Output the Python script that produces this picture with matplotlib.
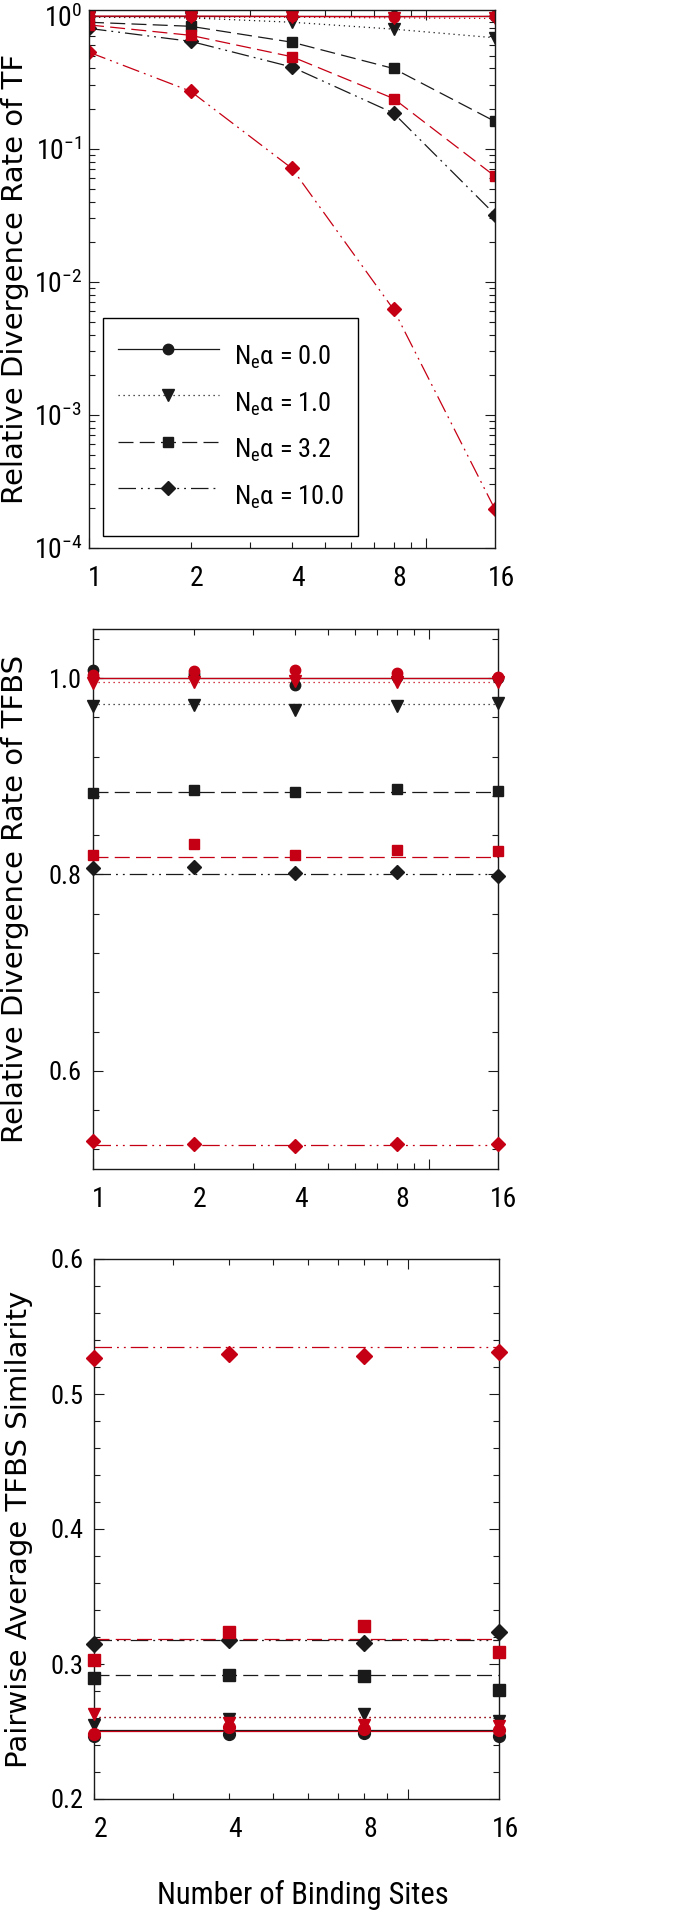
import numpy as np
import matplotlib
matplotlib.use('Agg')
import matplotlib.pyplot as plt
from matplotlib import font_manager as fm
from matplotlib.ft2font import FT2Font
from matplotlib.ticker import LogLocator, NullFormatter, MultipleLocator, NullLocator
from matplotlib.transforms import ScaledTranslation

avail = {f.name for f in fm.fontManager.ttflist}


def has_alpha(name):
    try:
        path = fm.findfont(fm.FontProperties(family=name), fallback_to_default=False)
        return FT2Font(path).get_char_index(ord('α')) != 0
    except Exception:
        return False


NARROW = 'Liberation Sans'
for cand in ['Liberation Sans Narrow', 'Arial Narrow', 'Roboto Condensed',
             'Archivo Narrow', 'PT Sans Narrow', 'Open Sans Condensed']:
    if cand in avail and has_alpha(cand):
        NARROW = cand
        break
plt.rcParams['font.family'] = [NARROW, 'DejaVu Sans']
plt.rcParams['mathtext.fontset'] = 'custom'
plt.rcParams['mathtext.rm'] = NARROW
plt.rcParams['mathtext.it'] = NARROW + ':italic'
plt.rcParams['mathtext.bf'] = NARROW + ':bold'

# ---------------- data ----------------
sites = [1, 2, 4, 8, 16]
sites_sim = [2, 4, 8, 16]
alpha_labels = ['0.0', '1.0', '3.2', '10.0']

# Panel 1: relative divergence rate of TF (black / red)
tf_black_a00 = [1.0, 1.0, 1.0, 1.0, 1.0]
tf_black_a10 = [0.97, 0.96, 0.89, 0.79, 0.68]
tf_black_a32 = [0.89, 0.83, 0.63, 0.40, 0.16]
tf_black_a100 = [0.80, 0.64, 0.41, 0.185, 0.032]
tf_red_a00 = [0.99, 0.99, 0.985, 0.98, 0.985]
tf_red_a10 = [0.98, 0.97, 0.97, 0.96, 0.95]
tf_red_a32 = [0.85, 0.71, 0.49, 0.238, 0.062]
tf_red_a100 = [0.53, 0.27, 0.071, 0.0062, 0.000195]

# Panel 2: relative divergence rate of TFBS (points and level lines)
tfbs_black_a00 = [1.008, 1.004, 0.993, 1.001, 1.0]
tfbs_black_a10 = [0.972, 0.973, 0.968, 0.972, 0.975]
tfbs_black_a32 = [0.883, 0.886, 0.884, 0.887, 0.885]
tfbs_black_a100 = [0.807, 0.808, 0.801, 0.803, 0.798]
tfbs_red_a00 = [1.003, 1.007, 1.008, 1.005, 1.001]
tfbs_red_a10 = [0.995, 0.996, 0.997, 0.996, 0.996]
tfbs_red_a32 = [0.820, 0.831, 0.820, 0.825, 0.824]
tfbs_red_a100 = [0.529, 0.525, 0.523, 0.525, 0.525]
tfbs_black_level = [1.0, 0.974, 0.884, 0.800]
tfbs_red_level = [1.0, 0.9965, 0.818, 0.524]

# Panel 3: pairwise average TFBS similarity (points and level lines)
sim_black_a00 = [0.247, 0.248, 0.249, 0.247]
sim_black_a10 = [0.255, 0.259, 0.263, 0.258]
sim_black_a32 = [0.2896, 0.292, 0.291, 0.281]
sim_black_a100 = [0.3148, 0.318, 0.3156, 0.324]
sim_red_a00 = [0.248, 0.253, 0.252, 0.251]
sim_red_a10 = [0.263, 0.256, 0.255, 0.254]
sim_red_a32 = [0.303, 0.3237, 0.328, 0.309]
sim_red_a100 = [0.527, 0.530, 0.528, 0.531]
sim_black_level = [0.251, 0.2605, 0.292, 0.318]
sim_red_level = [0.2506, 0.2605, 0.3185, 0.535]

# ---------------- styles ----------------
BLACK = '#1a1a1a'
RED = '#c60014'
LW = 0.9
LSTYLES = ['-', (0, (1, 3)), (0, (12, 5)), (0, (14, 4, 1.5, 4, 1.5, 4))]
MARKERS = ['o', 'v', 's', 'D']
MSIZES = [7.5, 8, 7.5, 7.5]
TICKSIZE = 19

W, H = 696, 1916
fig = plt.figure(figsize=(W / 100, H / 100), dpi=100)


def axes_px(left, top, right, bottom):
    return fig.add_axes([left / W, 1 - bottom / H, (right - left) / W, (bottom - top) / H])


ax1 = axes_px(89, 10, 495, 548)
ax2 = axes_px(92.7, 629, 498, 1169)
ax3 = axes_px(94.3, 1259, 499, 1799)

label_shift = ScaledTranslation(6 / 100, 0, fig.dpi_scale_trans)


def style_axes(ax, xs, ypad):
    ax.set_xscale('log')
    ax.set_xlim(xs[0], xs[-1])
    ax.xaxis.set_major_locator(LogLocator(base=10))
    ax.xaxis.set_minor_locator(LogLocator(base=10, subs=np.arange(2, 10)))
    ax.xaxis.set_major_formatter(NullFormatter())
    ax.xaxis.set_minor_formatter(NullFormatter())
    ax.tick_params(which='both', direction='in', top=True, right=True,
                   color=BLACK, width=0.8, labelsize=TICKSIZE, pad=ypad)
    ax.tick_params(which='major', length=7)
    ax.tick_params(which='minor', length=4)
    for s in ax.spines.values():
        s.set_linewidth(1.0)
        s.set_color(BLACK)
    sec = ax.secondary_xaxis('bottom')
    sec.set_xticks(xs, labels=[str(v) for v in xs])
    sec.xaxis.set_minor_locator(NullLocator())
    sec.tick_params(length=0, pad=12, labelsize=TICKSIZE + 1)
    sec.spines['bottom'].set_visible(False)
    for lab in sec.get_xticklabels():
        lab.set_transform(lab.get_transform() + label_shift)
    return sec


# ---------------- panel 1 ----------------
tf_black = [tf_black_a00, tf_black_a10, tf_black_a32, tf_black_a100]
tf_red = [tf_red_a00, tf_red_a10, tf_red_a32, tf_red_a100]
handles = []
for i in range(4):
    h, = ax1.plot(sites, tf_black[i], color=BLACK, ls=LSTYLES[i], lw=LW,
                  marker=MARKERS[i], ms=MSIZES[i], mec=BLACK, mfc=BLACK)
    handles.append(h)
for i in range(4):
    ax1.plot(sites, tf_red[i], color=RED, ls=LSTYLES[i], lw=LW,
             marker=MARKERS[i], ms=MSIZES[i], mec=RED, mfc=RED)
ax1.set_yscale('log')
ax1.set_ylim(1e-4, 1.1)
ax1.yaxis.set_minor_locator(LogLocator(base=10, subs=np.arange(2, 10)))
ax1.yaxis.set_minor_formatter(NullFormatter())
style_axes(ax1, sites, 5)
ax1.tick_params(axis='y', pad=5, labelsize=TICKSIZE + 1)

leg = ax1.legend(handles=handles,
                 labels=[r'N$_{\mathregular{e}}$α = ' + a for a in alpha_labels],
                 loc='upper left', bbox_to_anchor=((103 - 89) / 406, (548 - 318) / 538),
                 borderaxespad=0, fontsize=19, frameon=True, fancybox=False,
                 edgecolor='black', framealpha=1, handlelength=3.85, handletextpad=0.55,
                 borderpad=0.55, handleheight=2.5, labelspacing=-0.11, numpoints=1)
leg.get_frame().set_linewidth(1.0)

# ---------------- panel 2 ----------------
tfbs_black = [tfbs_black_a00, tfbs_black_a10, tfbs_black_a32, tfbs_black_a100]
tfbs_red = [tfbs_red_a00, tfbs_red_a10, tfbs_red_a32, tfbs_red_a100]
for pts, lev, col in [(tfbs_black, tfbs_black_level, BLACK), (tfbs_red, tfbs_red_level, RED)]:
    for i in range(4):
        ax2.plot([sites[0], sites[-1]], [lev[i], lev[i]], color=col, ls=LSTYLES[i], lw=LW, zorder=2)
        ax2.plot(sites, pts[i], ls='none', marker=MARKERS[i], ms=MSIZES[i],
                 mec=col, mfc=col, zorder=3, clip_on=False)
ax2.set_ylim(0.5, 1.05)
ax2.set_yticks([0.6, 0.8, 1.0], labels=['0.6', '0.8', '1.0'])
ax2.yaxis.set_minor_locator(MultipleLocator(0.04))
style_axes(ax2, sites, 8)

# ---------------- panel 3 ----------------
sim_black = [sim_black_a00, sim_black_a10, sim_black_a32, sim_black_a100]
sim_red = [sim_red_a00, sim_red_a10, sim_red_a32, sim_red_a100]
for pts, lev, col in [(sim_black, sim_black_level, BLACK), (sim_red, sim_red_level, RED)]:
    for i in range(4):
        ax3.plot([sites_sim[0], sites_sim[-1]], [lev[i], lev[i]], color=col, ls=LSTYLES[i], lw=LW, zorder=2)
        ax3.plot(sites_sim, pts[i], ls='none', marker=MARKERS[i], ms=MSIZES[i] + 1.0,
                 mec=col, mfc=col, zorder=3, clip_on=False)
ax3.set_ylim(0.2, 0.6)
ax3.set_yticks([0.2, 0.3, 0.4, 0.5, 0.6], labels=['0.2', '0.3', '0.4', '0.5', '0.6'])
ax3.yaxis.set_minor_locator(MultipleLocator(0.02))
style_axes(ax3, sites_sim, 8)

# ---------------- labels ----------------
ylab_kw = dict(fontsize=21, family=['DejaVu Sans'])
for ax, text, xpx, left, width in [
        (ax1, 'Relative Divergence Rate of TF', 15, 89, 406),
        (ax2, 'Relative Divergence Rate of TFBS', 15, 92.7, 405.3),
        (ax3, 'Pairwise Average TFBS Similarity', 19, 94.3, 404.7)]:
    ax.set_ylabel(text, **ylab_kw)
    ax.yaxis.label.set_va('center')
    ax.yaxis.set_label_coords((xpx - left) / width, 0.5)

ax3.set_xlabel('Number of Binding Sites', fontsize=22)
ax3.xaxis.label.set_va('center')
ax3.xaxis.set_label_coords((303 - 94.3) / 404.7, -(1895 - 1799) / 540)

fig.savefig('out.png', dpi=100)
